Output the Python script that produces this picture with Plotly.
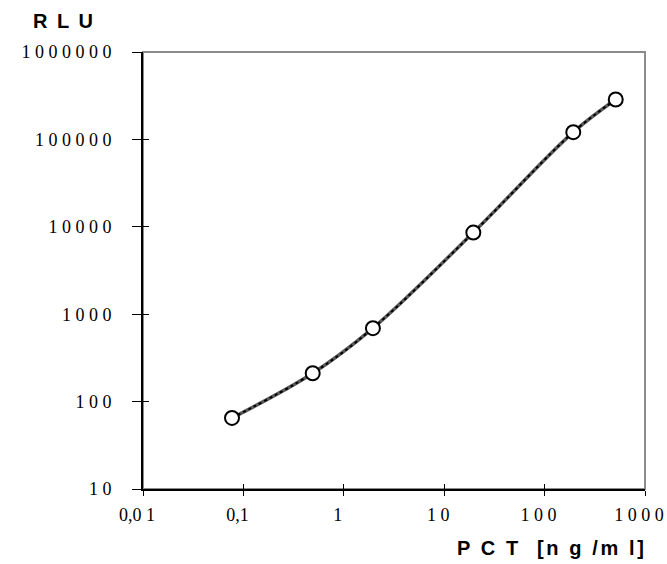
import plotly.graph_objects as go

pct = [0.077, 0.49, 1.95, 19.5, 193, 511]
rlu = [65, 211, 692, 8590, 121000, 286000]

x_ticks = [0.01, 0.1, 1, 10, 100, 1000]
x_labels = ["0,0 1", "0,1", "1", "1 0", "1 0 0", "1 0 0 0"]
y_ticks = [10, 100, 1000, 10000, 100000, 1000000]
y_labels = ["1 0", "1 0 0", "1 0 0 0", "1 0 0 0 0", "1 0 0 0 0 0", "1 0 0 0 0 0 0"]

fig = go.Figure()
fig.add_trace(go.Scatter(x=pct, y=rlu, mode="lines", line=dict(color="#5a5a5a", width=3.5, shape="spline"),
                         hoverinfo="skip", showlegend=False))
fig.add_trace(go.Scatter(x=pct, y=rlu, mode="lines", line=dict(color="#000000", width=2, shape="spline", dash="dot"),
                         hoverinfo="skip", showlegend=False))
fig.add_trace(go.Scatter(x=pct, y=rlu, mode="markers",
                         marker=dict(symbol="circle", size=14, color="white", line=dict(color="black", width=2)),
                         showlegend=False))

tickfont = dict(family="Liberation Serif", size=18, color="black")
fig.update_layout(
    width=667, height=564,
    margin=dict(l=143, r=22, t=52, b=75),
    paper_bgcolor="white", plot_bgcolor="white",
    xaxis=dict(type="log", range=[-2, 3], tickvals=x_ticks, ticktext=x_labels, tickfont=tickfont,
               showgrid=False, zeroline=False, showline=True, linecolor="black", linewidth=1.5,
               ticks="outside", ticklen=5, tickwidth=1, tickcolor="black", ticklabelstandoff=4,
               ticklabelshift=-6, ticklabeloverflow="allow", automargin=False),
    yaxis=dict(type="log", range=[1, 6], tickvals=y_ticks, ticktext=y_labels, tickfont=tickfont,
               showgrid=False, zeroline=False, showline=True, linecolor="black", linewidth=2,
               ticks="outside", ticklen=9, tickwidth=1, tickcolor="black", ticklabelstandoff=17,
               ticklabeloverflow="allow", automargin=False),
    xaxis2=dict(type="log", range=[-2, 3], overlaying="x", tickvals=x_ticks, showticklabels=False,
                showgrid=False, zeroline=False, ticks="inside", ticklen=5, tickcolor="black", showline=False,
                automargin=False),
    yaxis2=dict(type="log", range=[1, 6], overlaying="y", tickvals=y_ticks, showticklabels=False,
                showgrid=False, zeroline=False, ticks="inside", ticklen=6, tickcolor="black", showline=False,
                automargin=False),
    shapes=[dict(type="rect", xref="paper", yref="paper", x0=0, x1=1, y0=0, y1=1,
                 line=dict(color="#8c8c8c", width=2), layer="below")],
    annotations=[
        dict(text="<b><span style='letter-spacing:2px'>R L U</span></b>", xref="paper", yref="paper",
             x=-0.157, y=1.071, xanchor="center", yanchor="middle",
             showarrow=False, font=dict(family="Liberation Sans", size=20, color="black")),
        dict(text="<b><span style='letter-spacing:2.6px'>P C T  [n g /m l]</span></b>", xref="paper", yref="paper",
             x=1.006, y=-0.135, xanchor="right", yanchor="middle",
             showarrow=False, font=dict(family="Liberation Sans", size=20, color="black")),
    ],
)
fig.add_trace(go.Scatter(x=[1], y=[100], xaxis="x2", yaxis="y2", mode="markers", marker=dict(opacity=0),
                         hoverinfo="skip", showlegend=False))
fig.write_html("out.html", config={"displayModeBar": False},
               post_script="document.body.style.margin='0px';")
